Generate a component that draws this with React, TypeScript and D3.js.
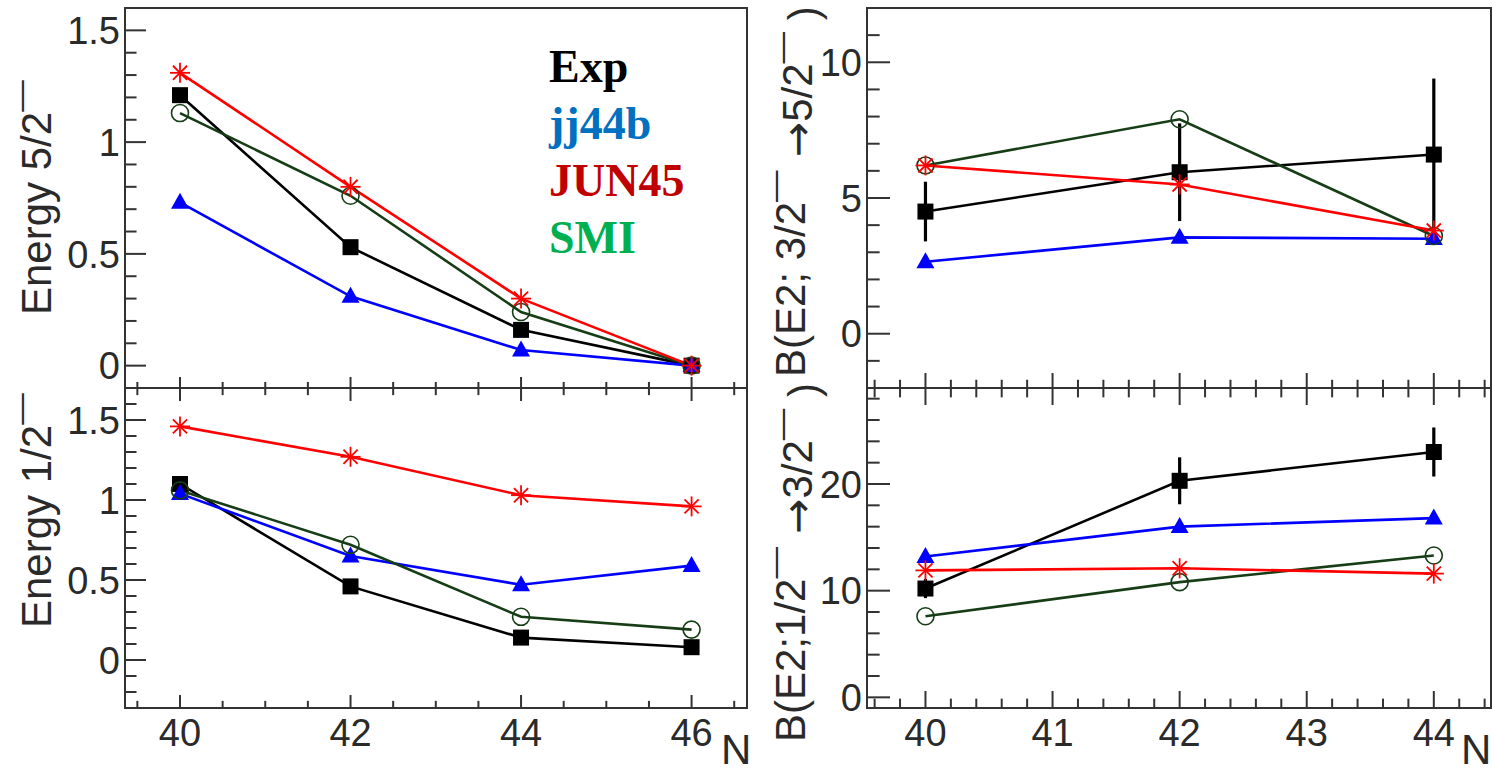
import React from "react";
import * as d3 from "d3";

// Neutron number on the x axis
const N_LEFT = [40, 42, 44, 46];
const N_RIGHT = [40, 42, 44];

// Excitation energy of the 5/2- state (MeV)
const exp52 = [1.21, 0.53, 0.16, 0];
const jj52 = [0.73, 0.31, 0.07, 0];
const jun52 = [1.31, 0.8, 0.3, 0];
const smi52 = [1.13, 0.76, 0.24, 0];

// Excitation energy of the 1/2- state (MeV)
const exp12 = [1.1, 0.46, 0.14, 0.08];
const jj12 = [1.04, 0.65, 0.47, 0.59];
const jun12 = [1.46, 1.27, 1.03, 0.96];
const smi12 = [1.06, 0.72, 0.27, 0.19];

// B(E2; 3/2- -> 5/2-)
const expB35 = [4.5, 5.95, 6.6];
const expB35Err = [1.1, 1.8, 2.8];
const jjB35 = [2.65, 3.55, 3.5];
const junB35 = [6.2, 5.5, 3.8];
const smiB35 = [6.2, 7.9, 3.6];

// B(E2; 1/2- -> 3/2-)
const expB13 = [10.2, 20.3, 23.0];
const expB13Err = [0.9, 2.2, 2.3];
const jjB13 = [13.2, 16.0, 16.8];
const junB13 = [11.9, 12.1, 11.6];
const smiB13 = [7.6, 10.8, 13.3];

// Tick labels
const yTicksEnergy = [0, 0.5, 1, 1.5];
const yTicksB35 = [0, 5, 10];
const yTicksB13 = [0, 10, 20];
const xTicksLeft = [40, 42, 44, 46];
const xTicksRight = [40, 41, 42, 43, 44];

const legendItems = [
  { name: "Exp", color: "#000000" },
  { name: "jj44b", color: "#0070C0" },
  { name: "JUN45", color: "#C00000" },
  { name: "SMI", color: "#00B050" },
];

const COL = {
  exp: "#000000",
  jj: "#0000ff",
  jun: "#ff0000",
  smi: "#173d17",
};
const FRAME = "#333333";
const TXT = "#2a2a2a";
const FONT = "'Liberation Sans', Arial, Helvetica, sans-serif";

type Series = {
  key: string;
  values: number[];
  err?: number[];
  color: string;
  marker: "square" | "triangle" | "star" | "circle";
};

function Marker({ type, x, y, color }: { type: string; x: number; y: number; color: string }) {
  if (type === "square") {
    const s = 16;
    return <rect x={x - s / 2} y={y - s / 2} width={s} height={s} fill={color} />;
  }
  if (type === "triangle") {
    const h = 16;
    const w = 18;
    return (
      <path
        d={`M${x},${y - h * 0.6}L${x + w / 2},${y + h * 0.4}L${x - w / 2},${y + h * 0.4}Z`}
        fill={color}
      />
    );
  }
  if (type === "star") {
    const r = 10;
    const d = r * Math.SQRT1_2;
    return (
      <g stroke={color} strokeWidth={1.8}>
        <line x1={x} y1={y - r} x2={x} y2={y + r} />
        <line x1={x - r} y1={y} x2={x + r} y2={y} />
        <line x1={x - d} y1={y - d} x2={x + d} y2={y + d} />
        <line x1={x - d} y1={y + d} x2={x + d} y2={y - d} />
      </g>
    );
  }
  return <circle cx={x} cy={y} r={8.5} fill="none" stroke={color} strokeWidth={1.6} />;
}

type PanelProps = {
  left: number;
  top: number;
  width: number;
  height: number;
  xDomain: [number, number];
  yDomain: [number, number];
  xs: number[];
  series: Series[];
  yTicks: number[];
  yMinorStep: number;
  xMajor: number[];
  xMinorStep: number;
  showXLabels: boolean;
  ticksTop: boolean;
  ticksBottom: boolean;
  yMajorLen: number;
  xMajorLen: number;
};

function Panel(p: PanelProps) {
  const x = d3.scaleLinear().domain(p.xDomain).range([p.left, p.left + p.width]);
  const y = d3.scaleLinear().domain(p.yDomain).range([p.top + p.height, p.top]);
  const bottom = p.top + p.height;

  const yMinor = d3
    .range(Math.ceil(p.yDomain[0] / p.yMinorStep - 1e-6), Math.floor(p.yDomain[1] / p.yMinorStep + 1e-6) + 1)
    .map((i) => +(i * p.yMinorStep).toFixed(6));
  const xMinor = d3
    .range(Math.ceil(p.xDomain[0] / p.xMinorStep - 1e-6), Math.floor(p.xDomain[1] / p.xMinorStep + 1e-6) + 1)
    .map((i) => +(i * p.xMinorStep).toFixed(6));
  const isMajorY = (v: number) => p.yTicks.some((t) => Math.abs(t - v) < 1e-6);
  const isMajorX = (v: number) => p.xMajor.some((t) => Math.abs(t - v) < 1e-6);

  const line = d3
    .line<number>()
    .x((_, i) => x(p.xs[i]))
    .y((v) => y(v));

  return (
    <g>
      {/* y ticks */}
      {yMinor.map((v) => (
        <line
          key={"ym" + v}
          x1={p.left}
          x2={p.left + (isMajorY(v) ? p.yMajorLen : p.yMajorLen * 0.55)}
          y1={y(v)}
          y2={y(v)}
          stroke={FRAME}
          strokeWidth={2}
        />
      ))}
      {p.yTicks.map((v) => (
        <text
          key={"yl" + v}
          x={p.left - 5}
          y={y(v)}
          dy="0.36em"
          textAnchor="end"
          fontSize={38}
          fontFamily={FONT}
          fill={TXT}
        >
          {String(v)}
        </text>
      ))}
      {/* x ticks */}
      {xMinor.map((v) => {
        const len = isMajorX(v) ? p.xMajorLen : p.xMajorLen * 0.55;
        return (
          <g key={"xm" + v}>
            {p.ticksBottom && (
              <line x1={x(v)} x2={x(v)} y1={bottom} y2={bottom - len} stroke={FRAME} strokeWidth={2} />
            )}
            {p.ticksTop && (
              <line x1={x(v)} x2={x(v)} y1={p.top} y2={p.top + len} stroke={FRAME} strokeWidth={2} />
            )}
          </g>
        );
      })}
      {p.showXLabels &&
        p.xMajor.map((v) => (
          <text
            key={"xl" + v}
            x={x(v)}
            y={bottom + 38}
            textAnchor="middle"
            fontSize={38}
            fontFamily={FONT}
            fill={TXT}
          >
            {String(v)}
          </text>
        ))}
      {/* series lines */}
      {p.series.map((s) => (
        <path key={"l" + s.key} d={line(s.values) || ""} fill="none" stroke={s.color} strokeWidth={2.6} />
      ))}
      {/* error bars */}
      {p.series.map((s) =>
        s.err
          ? s.values.map((v, i) => (
              <g key={"e" + s.key + i} stroke={s.color} strokeWidth={3.2}>
                <line x1={x(p.xs[i])} x2={x(p.xs[i])} y1={y(v - s.err![i])} y2={y(v + s.err![i])} />
              </g>
            ))
          : null
      )}
      {/* markers */}
      {p.series.map((s) =>
        s.values.map((v, i) => (
          <Marker key={"m" + s.key + i} type={s.marker} x={x(p.xs[i])} y={y(v)} color={s.color} />
        ))
      )}
      {/* frame */}
      <rect x={p.left} y={p.top} width={p.width} height={p.height} fill="none" stroke={FRAME} strokeWidth={2} />
    </g>
  );
}

function mk(exp: number[], jj: number[], jun: number[], smi: number[], err?: number[]): Series[] {
  return [
    { key: "exp", values: exp, err, color: COL.exp, marker: "square" },
    { key: "jj", values: jj, color: COL.jj, marker: "triangle" },
    { key: "smi", values: smi, color: COL.smi, marker: "circle" },
    { key: "jun", values: jun, color: COL.jun, marker: "star" },
  ];
}

// superscript minus drawn as a long bar above the preceding digit
function Sup() {
  return (
    <tspan dy="-0.62em" fontSize="0.75em">
      {"\u2014"}
    </tspan>
  );
}

function Arrow() {
  return (
    <tspan dy="0.62em" fontFamily="'DejaVu Sans', sans-serif">
      {" \u2192"}
    </tspan>
  );
}

export default function App() {
  const W = 1493;
  const H = 773;
  const LX = 125,
    LW = 622;
  const RX = 867,
    RW = 624;
  const T1 = 8,
    H1 = 380,
    T2 = 388,
    H2 = 320;
  const titleFont = 42;

  return (
    <svg
      width={W}
      height={H}
      style={{ position: "absolute", left: 0, top: 0, background: "#fff" }}
      fontFamily={FONT}
    >
      <rect x={0} y={0} width={W} height={H} fill="#fff" />

      <Panel
        left={LX}
        top={T1}
        width={LW}
        height={H1}
        xDomain={[39.355, 46.65]}
        yDomain={[-0.1, 1.6]}
        xs={N_LEFT}
        series={mk(exp52, jj52, jun52, smi52)}
        yTicks={yTicksEnergy}
        yMinorStep={0.1}
        xMajor={xTicksLeft}
        xMinorStep={0.5}
        showXLabels={false}
        ticksTop={false}
        ticksBottom={true}
        yMajorLen={21}
        xMajorLen={11}
      />
      <Panel
        left={LX}
        top={T2}
        width={LW}
        height={H2}
        xDomain={[39.355, 46.65]}
        yDomain={[-0.3, 1.7]}
        xs={N_LEFT}
        series={mk(exp12, jj12, jun12, smi12)}
        yTicks={yTicksEnergy}
        yMinorStep={0.1}
        xMajor={xTicksLeft}
        xMinorStep={0.5}
        showXLabels={true}
        ticksTop={true}
        ticksBottom={true}
        yMajorLen={21}
        xMajorLen={13}
      />
      <Panel
        left={RX}
        top={T1}
        width={RW}
        height={H1}
        xDomain={[39.54, 44.45]}
        yDomain={[-2, 12]}
        xs={N_RIGHT}
        series={mk(expB35, jjB35, junB35, smiB35, expB35Err)}
        yTicks={yTicksB35}
        yMinorStep={1}
        xMajor={xTicksRight}
        xMinorStep={0.2}
        showXLabels={false}
        ticksTop={false}
        ticksBottom={true}
        yMajorLen={23}
        xMajorLen={15}
      />
      <Panel
        left={RX}
        top={T2}
        width={RW}
        height={H2}
        xDomain={[39.54, 44.45]}
        yDomain={[-1, 29]}
        xs={N_RIGHT}
        series={mk(expB13, jjB13, junB13, smiB13, expB13Err)}
        yTicks={yTicksB13}
        yMinorStep={2}
        xMajor={xTicksRight}
        xMinorStep={0.2}
        showXLabels={true}
        ticksTop={true}
        ticksBottom={true}
        yMajorLen={23}
        xMajorLen={17}
      />

      {/* axis titles */}
      <text x={721} y={764} fontSize={42} fontFamily={FONT} fill={TXT}>
        N
      </text>
      <text x={1461} y={764} fontSize={42} fontFamily={FONT} fill={TXT}>
        N
      </text>

      <text
        transform="translate(51,315) rotate(-90)"
        fontSize={titleFont}
        fontFamily={FONT}
        fill={TXT}
        textAnchor="start"
      >
        Energy 5/2
        <Sup />
      </text>
      <text
        transform="translate(51,628) rotate(-90)"
        fontSize={titleFont}
        fontFamily={FONT}
        fill={TXT}
        textAnchor="start"
      >
        Energy 1/2
        <Sup />
      </text>
      <text
        transform="translate(805,377) rotate(-90)"
        fontSize={titleFont}
        fontFamily={FONT}
        fill={TXT}
        textAnchor="start"
      >
        {"B(E2; 3/2"}
        <Sup />
        <Arrow />
        {"5/2"}
        <Sup />
        <tspan dy="0.62em">{" )"}</tspan>
      </text>
      <text
        transform="translate(805,742) rotate(-90)"
        fontSize={titleFont}
        fontFamily={FONT}
        fill={TXT}
        textAnchor="start"
      >
        {"B(E2;1/2"}
        <Sup />
        <Arrow />
        {"3/2"}
        <Sup />
        <tspan dy="0.62em">{" )"}</tspan>
      </text>

      {/* legend */}
      {legendItems.map((it, i) => (
        <text
          key={it.name}
          x={549}
          y={82 + i * 57}
          fontSize={46}
          fontWeight="bold"
          fontFamily="'Liberation Serif', 'Times New Roman', serif"
          fill={it.color}
        >
          {it.name}
        </text>
      ))}
    </svg>
  );
}
